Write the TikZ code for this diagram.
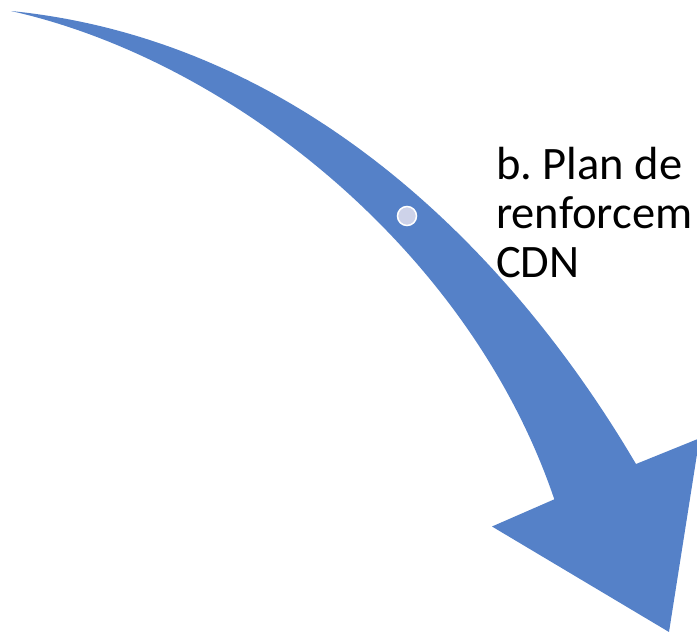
\documentclass[tikz,border=0pt]{standalone}
\usepackage{fontspec}
\setmainfont{Carlito}
\frenchspacing
\definecolor{arrowblue}{HTML}{5581C8}
\definecolor{dotfill}{HTML}{CDD2E9}
\tikzset{
  arrowbody/.style={fill=arrowblue, draw=none},
  dotnode/.style={circle, fill=dotfill, draw=white, line width=1.5pt, minimum size=19pt, inner sep=0pt},
  labeltext/.style={anchor=base west, inner sep=0pt, font=\fontsize{46.5}{50}\selectfont, text=black}
}
\begin{document}
\begin{tikzpicture}[x=1pt, y=-1pt]
\useasboundingbox (0,0) rectangle (697,632);
\clip (0,0) rectangle (697,632);
\coordinate (tail) at (11,11);
\coordinate (nu) at (636,464);
\coordinate (wr) at (699.5,438.3);
\coordinate (tip) at (669,632);
\coordinate (wl) at (492,526.5);
\coordinate (nl) at (554.3,499.3);
\fill[arrowbody] (tail) .. controls (300,40) and (510,250) .. (nu)
  -- (wr) -- (tip) -- (wl) -- (nl)
  .. controls (470,250) and (230,60) .. (tail) -- cycle;
\node[dotnode] (dot) at (407,216) {};
\node[labeltext] (t1) at (496,179.5) {b. Plan de};
\node[labeltext] (t2) at (496,228) {renforcem};
\node[labeltext] (t3) at (496,277) {CDN};
\end{tikzpicture}
\end{document}
